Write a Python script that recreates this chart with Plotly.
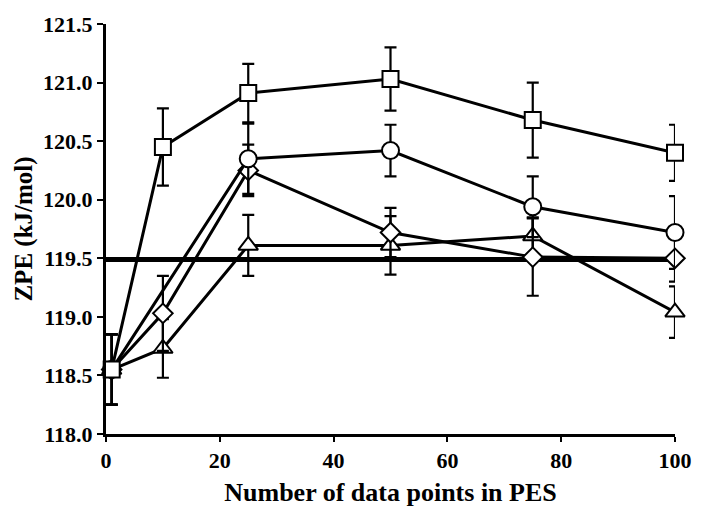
import plotly.graph_objects as go

# Data
sq_x = [1, 10, 25, 50, 75, 100]
sq_y = [118.55, 120.45, 120.91, 121.03, 120.68, 120.40]
sq_e = [0.30, 0.33, 0.25, 0.27, 0.32, 0.24]

ci_x = [1, 25, 50, 75, 100]
ci_y = [118.55, 120.35, 120.42, 119.94, 119.72]
ci_e = [0.30, 0.30, 0.22, 0.26, 0.31]

di_x = [1, 10, 25, 50, 75, 100]
di_y = [118.55, 119.03, 120.25, 119.72, 119.51, 119.50]
di_e = [0.30, 0.32, 0.22, 0.21, 0.33, 0.20]

tr_x = [1, 10, 25, 50, 75, 100]
tr_y = [118.55, 118.73, 119.61, 119.61, 119.69, 119.04]
tr_e = [0.30, 0.25, 0.26, 0.25, 0.16, 0.22]

ref_x = [0, 100]
ref_y = [119.49, 119.49]

x_ticks = [0, 20, 40, 60, 80, 100]
y_ticks = [118.0, 118.5, 119.0, 119.5, 120.0, 120.5, 121.0, 121.5]

FONT = "Liberation Serif"

fig = go.Figure()

fig.add_trace(go.Scatter(x=ref_x, y=ref_y, mode="lines",
                         line=dict(color="black", width=5), showlegend=False))

def add_series(x, y, e, symbol, size):
    fig.add_trace(go.Scatter(
        x=x, y=y, mode="lines+markers",
        line=dict(color="black", width=3),
        marker=dict(symbol=symbol, size=size, color="white",
                    line=dict(color="black", width=2)),
        error_y=dict(type="data", array=e, visible=True, color="black",
                     thickness=2.2, width=6),
        cliponaxis=False, showlegend=False))

add_series(tr_x, tr_y, tr_e, "triangle-up", 17)
add_series(di_x, di_y, di_e, "diamond", 15)
add_series(ci_x, ci_y, ci_e, "circle", 17)
add_series(sq_x, sq_y, sq_e, "square", 16)

fig.update_layout(
    width=704, height=515,
    margin=dict(l=106, r=18, t=17, b=79),
    paper_bgcolor="white", plot_bgcolor="white",
    font=dict(family=FONT, size=18, color="black"),
)
fig.update_xaxes(
    range=[0, 100], tickvals=x_ticks, ticks="outside", ticklen=5, tickwidth=2,
    tickcolor="black", showline=True, linecolor="black", linewidth=3,
    showgrid=False, zeroline=False, ticklabeloverflow="allow",
    tickfont=dict(family=FONT, size=22, color="black", weight="bold"),
    title=dict(text="Number of data points in PES", standoff=11,
               font=dict(family=FONT, size=26, color="black", weight="bold")),
)
fig.update_yaxes(
    range=[118, 121.5], tickvals=y_ticks, tickformat=".1f", ticks="outside",
    ticklen=6, tickwidth=2, tickcolor="black", showline=True, linecolor="black",
    linewidth=3, showgrid=False, zeroline=False,
    tickfont=dict(family=FONT, size=22, color="black", weight="bold"),
    title=dict(text="ZPE (kJ/mol)", standoff=4,
               font=dict(family=FONT, size=25, color="black", weight="bold")),
)

fig.write_html("out.html")
